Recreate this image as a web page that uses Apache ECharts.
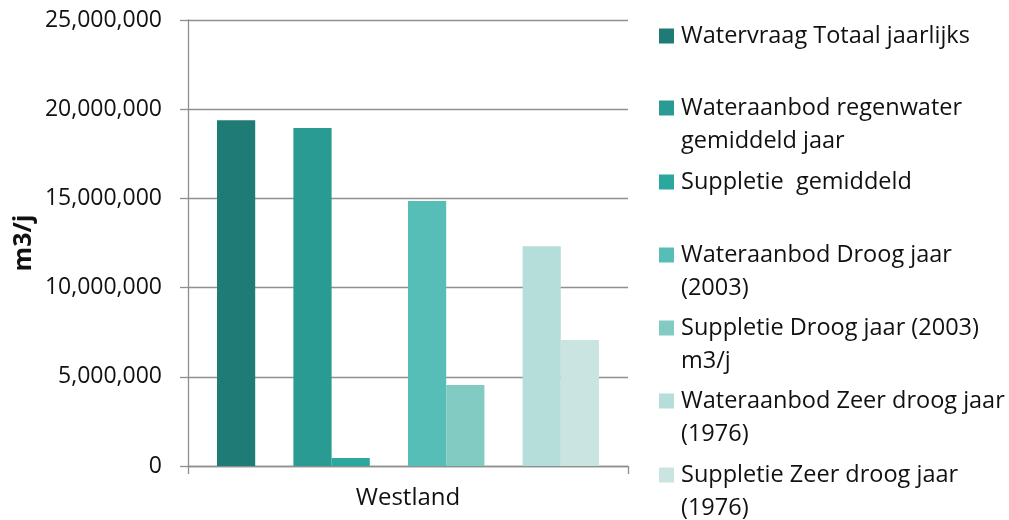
<!DOCTYPE html>
<html><head><meta charset="utf-8">
<script src="https://cdn.jsdelivr.net/npm/echarts@6/dist/echarts.min.js"></script>
<style>html,body{margin:0;padding:0;background:#fff}#c{width:1009px;height:520px}</style>
</head><body><div id="c"></div>
<script>
const categories = ['Westland'];
const seriesNames = [
  'Watervraag Totaal jaarlijks',
  'Wateraanbod regenwater gemiddeld jaar',
  'Suppletie  gemiddeld',
  'Wateraanbod Droog jaar (2003)',
  'Suppletie Droog jaar (2003) m3/j',
  'Wateraanbod Zeer droog jaar (1976)',
  'Suppletie Zeer droog jaar (1976)'
];
const legendLabels = [
  'Watervraag Totaal jaarlijks',
  'Wateraanbod regenwater\ngemiddeld jaar',
  'Suppletie  gemiddeld',
  'Wateraanbod Droog jaar\n(2003)',
  'Suppletie Droog jaar (2003)\nm3/j',
  'Wateraanbod Zeer droog jaar\n(1976)',
  'Suppletie Zeer droog jaar\n(1976)'
];
const values = [19380000, 18940000, 450000, 14850000, 4540000, 12320000, 7060000];
const yMin = 0, yMax = 25000000, yStep = 5000000;
const axisTitle = 'm3/j';

const palette = ['#1F7B76', '#2A9B93', '#2CA79E', '#57BEB7', '#82CBC3', '#B5DEDA', '#CAE5E1'];
// Excel layout reserved empty slots between groups
const slotOrder = [0, null, 1, 2, null, 3, 4, null, 5, 6];
const legendCenters = [36, 108, 182, 255, 328, 401, 475];
const FONT = 'Open Sans';
const LH = 33;

const series = slotOrder.map((idx, k) => {
  if (idx === null) {
    return { type: 'bar', name: 'spacer' + k, data: [null], barWidth: 38.2, barGap: '0%', silent: true };
  }
  return {
    type: 'bar', name: seriesNames[idx], data: [values[idx]],
    barWidth: 38.2, barGap: '0%',
    itemStyle: { color: palette[idx] }
  };
});

const legends = seriesNames.map((n, i) => {
  const two = legendLabels[i].indexOf('\n') >= 0;
  // for two-line labels, prepend an empty line so the first line sits level with the swatch
  const label = two ? '\n' + legendLabels[i] : legendLabels[i];
  return {
    data: [n], left: 659, top: legendCenters[i] - (two ? 1.5 * LH : 0.5 * LH),
    padding: 0, itemWidth: 15, itemHeight: 15, icon: 'rect',
    selectedMode: false,
    formatter: () => label,
    textStyle: { fontFamily: FONT, fontSize: 23.5, color: '#111', lineHeight: LH,
      padding: [0, 0, 0, 2] }
  };
});

const chart = echarts.init(document.getElementById('c'), null, { renderer: 'canvas' });
chart.setOption({
  animation: false,
  backgroundColor: '#fff',
  color: palette,
  grid: { left: 188, right: 381, top: 20, bottom: 54, containLabel: false },
  legend: legends,
  xAxis: {
    type: 'category', data: categories, boundaryGap: true,
    axisLine: { lineStyle: { color: '#8f8f8f', width: 1.3 } },
    axisTick: { show: true, alignWithLabel: false, length: 8, lineStyle: { color: '#8f8f8f', width: 1.3 } },
    axisLabel: { fontFamily: FONT, fontSize: 24, color: '#111', margin: 20 }
  },
  yAxis: {
    type: 'value', min: yMin, max: yMax, interval: yStep,
    name: axisTitle, nameLocation: 'middle', nameGap: 152, nameRotate: 90,
    nameTextStyle: { fontFamily: FONT, fontSize: 25, fontWeight: 'bold', color: '#111' },
    axisLine: { show: true, lineStyle: { color: '#8f8f8f', width: 1.3 } },
    axisTick: { show: true, length: 8, lineStyle: { color: '#8f8f8f', width: 1.3 } },
    splitLine: { show: true, lineStyle: { color: '#8f8f8f', width: 1.3 } },
    axisLabel: { fontFamily: FONT, fontSize: 23, color: '#111', margin: 26,
      formatter: v => v.toLocaleString('en-US') }
  },
  series: series
});
</script></body></html>
